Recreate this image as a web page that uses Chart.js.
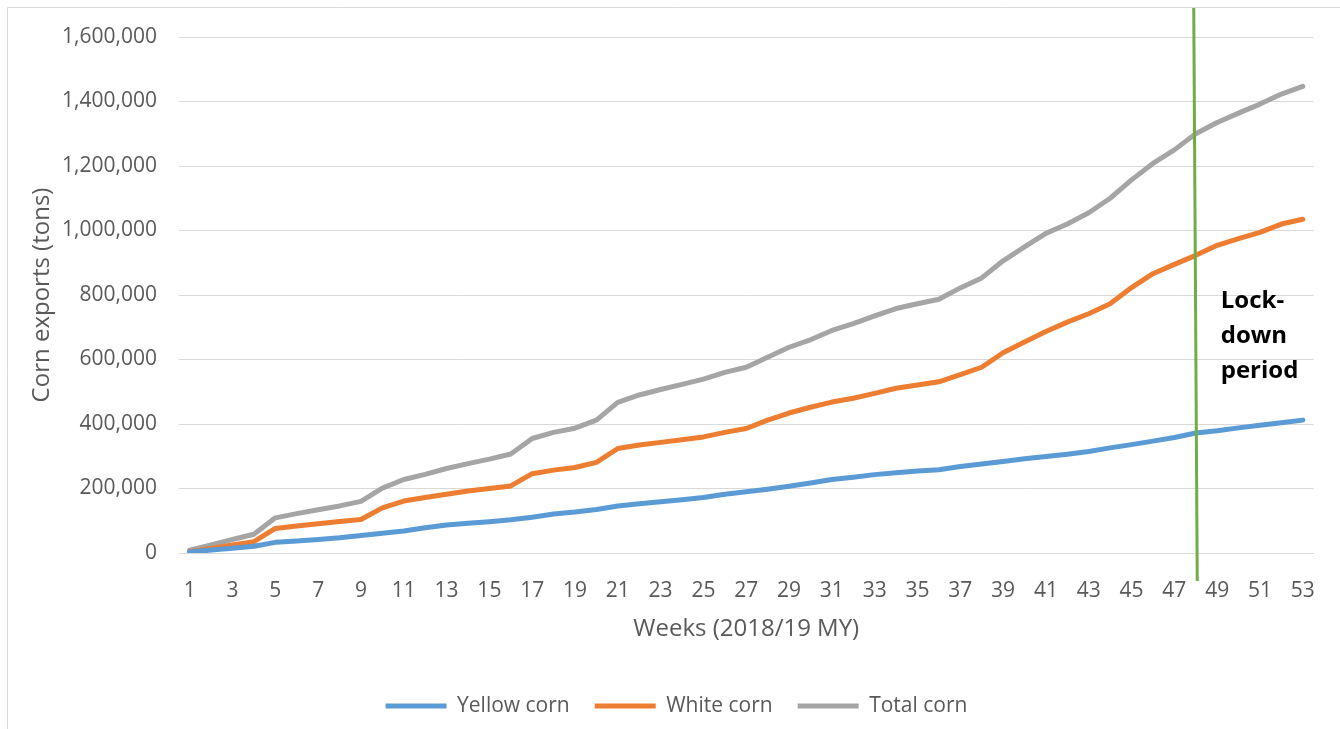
<!DOCTYPE html>
<html>
<head>
<meta charset="utf-8">
<title>Corn exports 2018/19 MY</title>
<script src="https://cdn.jsdelivr.net/npm/chart.js@4.4.1/dist/chart.umd.min.js"></script>
<style>
  html, body { margin: 0; padding: 0; background: #fff; overflow: hidden; }
  #wrap { width: 1340px; height: 729px; }
</style>
</head>
<body>
<div id="wrap"><canvas id="chart" width="1340" height="729"></canvas></div>
<script>
// Weeks of the 2018/19 marketing year
const weeks = [
    1, 2, 3, 4, 5, 6, 7, 8, 9, 10, 11, 12, 13, 14, 15, 16, 17, 18, 19, 20,
    21, 22, 23, 24, 25, 26, 27, 28, 29, 30, 31, 32, 33, 34, 35, 36, 37, 38, 39, 40,
    41, 42, 43, 44, 45, 46, 47, 48, 49, 50, 51, 52, 53,
];

// Cumulative exports (tons)
const yellowCorn = [
    3000, 9000, 15000, 21000, 33000, 37000, 42000, 47000, 54000, 61000,
    68000, 78000, 87000, 92000, 97000, 103000, 111000, 121000, 127000, 135000,
    146000, 153000, 159000, 165000, 172000, 182000, 190000, 198000, 207000, 217000,
    228000, 235000, 243000, 249000, 254000, 258000, 268000, 276000, 284000, 292000,
    299000, 306000, 315000, 326000, 336000, 347000, 358000, 372000, 379000, 388000,
    396000, 404000, 412000,
];
const whiteCorn = [
    4000, 14000, 25000, 35000, 76000, 84000, 91000, 98000, 104000, 140000,
    161000, 172000, 182000, 192000, 200000, 208000, 246000, 257000, 265000, 281000,
    324000, 335000, 343000, 351000, 360000, 374000, 386000, 412000, 434000, 452000,
    468000, 480000, 495000, 511000, 521000, 531000, 553000, 576000, 621000, 654000,
    687000, 716000, 742000, 773000, 823000, 866000, 895000, 923000, 954000, 975000,
    994000, 1020000, 1035000,
];
const totalCorn = [
    9000, 25000, 42000, 58000, 109000, 122000, 134000, 146000, 160000, 201000,
    228000, 244000, 262000, 277000, 291000, 307000, 355000, 374000, 387000, 412000,
    467000, 490000, 507000, 523000, 539000, 560000, 576000, 607000, 638000, 661000,
    690000, 711000, 735000, 758000, 773000, 787000, 822000, 853000, 906000, 949000,
    991000, 1020000, 1055000, 1100000, 1157000, 1208000, 1250000, 1300000, 1335000, 1364000,
    1392000, 1423000, 1447000,
];

// Axis ticks
const yTicks = [0, 200000, 400000, 600000, 800000, 1000000, 1200000, 1400000, 1600000];

// Lock-down marker (week where the line is drawn)
const lockdownWeek = 48;
const lockdownLabel = ["Lock-", "down", "period"];

const FONT = "'Open Sans', sans-serif";
const GREY_TEXT = "#595959";
const GRID = "#d9d9d9";

Chart.defaults.font.family = FONT;
Chart.defaults.color = GREY_TEXT;

// Thin frame around the chart, as in the original
const framePlugin = {
    id: "frame",
    beforeDraw(chart) {
        const c = chart.ctx;
        c.save();
        c.fillStyle = "#fff";
        c.fillRect(0, 0, chart.width, chart.height);
        c.strokeStyle = GRID;
        c.lineWidth = 1;
        c.beginPath();
        c.moveTo(7.5, chart.height);
        c.lineTo(7.5, 7.5);
        c.lineTo(chart.width, 7.5);
        c.stroke();
        c.restore();
    },
};

// Green lock-down line with its label
const lockdownPlugin = {
    id: "lockdown",
    afterDatasetsDraw(chart) {
        const x = chart.scales.x.getPixelForValue(lockdownWeek - 1);
        const area = chart.chartArea;
        const c = chart.ctx;
        c.save();
        c.strokeStyle = "#70ad47";
        c.lineWidth = 3;
        c.beginPath();
        c.moveTo(x - 2, 8);
        c.lineTo(x + 1.5, area.bottom + 28);
        c.stroke();

        c.fillStyle = "#000";
        c.font = "bold 24px " + FONT;
        c.textAlign = "left";
        c.textBaseline = "alphabetic";
        lockdownLabel.forEach((t, i) => {
            c.fillText(t, x + 25, 308 + i * 35);
        });
        c.restore();
    },
};

// Nudge the legend to where it sits in the original
const legendShift = {
    id: "legendShift",
    afterLayout(chart) {
        const lg = chart.legend;
        lg.left += 14;
        lg.right += 14;
        lg.top -= 2.5;
        lg.bottom -= 2.5;
    },
};

const series = [
    { label: "Yellow corn", data: yellowCorn, color: "#5b9bd5" },
    { label: "White corn", data: whiteCorn, color: "#ed7d31" },
    { label: "Total corn", data: totalCorn, color: "#a5a5a5" },
];

const ctx = document.getElementById("chart").getContext("2d");
const chart = new Chart(ctx, {
    type: "line",
    data: {
        labels: weeks,
        datasets: series.map((s) => ({
            label: s.label,
            data: s.data,
            borderColor: s.color,
            backgroundColor: s.color,
            borderWidth: 5,
            borderCapStyle: "round",
            borderJoinStyle: "round",
            pointRadius: 0,
            pointStyle: "line",
            tension: 0,
            fill: false,
        })),
    },
    options: {
        responsive: false,
        animation: false,
        layout: { padding: { left: 8, right: 23, top: 37, bottom: 0 } },
        plugins: {
            legend: {
                position: "bottom",
                labels: {
                    usePointStyle: true,
                    pointStyleWidth: 61,
                    padding: 25,
                    color: GREY_TEXT,
                    font: { size: 21 },
                },
            },
            tooltip: { enabled: false },
        },
        scales: {
            x: {
                offset: true,
                grid: { display: false, drawTicks: false },
                border: { display: true, color: GRID, width: 1 },
                ticks: {
                    autoSkip: false,
                    maxRotation: 0,
                    padding: 25,
                    font: { size: 21 },
                    color: GREY_TEXT,
                    callback: (v, i) => (i % 2 === 0 ? weeks[i] : ""),
                },
                title: {
                    display: true,
                    text: "Weeks (2018/19 MY)",
                    font: { size: 24 },
                    color: GREY_TEXT,
                    padding: { top: 0, bottom: 29 },
                },
                afterFit: (s) => { s.height = 120; },
            },
            y: {
                min: 0,
                max: 1600000,
                afterBuildTicks: (s) => { s.ticks = yTicks.map((v) => ({ value: v })); },
                grid: { color: GRID, lineWidth: 1, drawTicks: false },
                border: { display: false },
                ticks: {
                    padding: 22,
                    font: { size: 21 },
                    color: GREY_TEXT,
                    callback: (v) => v.toLocaleString("en-US"),
                },
                title: {
                    display: true,
                    text: "Corn exports (tons)",
                    font: { size: 24 },
                    color: GREY_TEXT,
                    padding: { top: 20, bottom: 0 },
                },
                afterFit: (s) => { s.width = 171; },
            },
        },
    },
    plugins: [framePlugin, lockdownPlugin, legendShift],
});
</script>
</body>
</html>
